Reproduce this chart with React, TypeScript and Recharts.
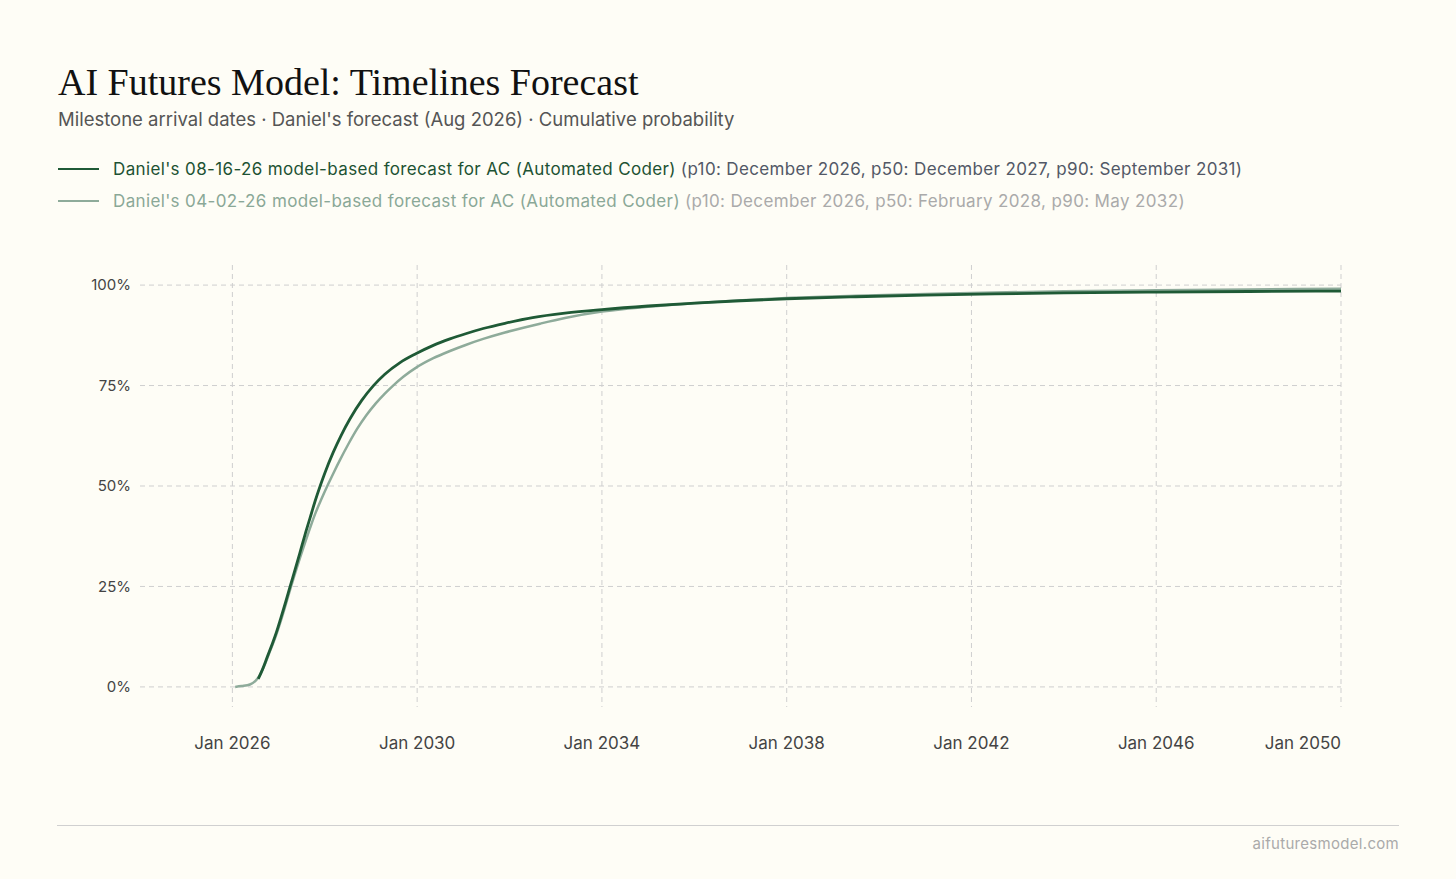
import React from "react";
import { LineChart, Line, XAxis, YAxis, CartesianGrid } from "recharts";

const darkYears = [2026.56, 2026.65, 2026.75, 2026.85, 2026.95, 2027.05, 2027.15, 2027.25, 2027.36, 2027.46, 2027.57, 2027.68, 2027.79, 2027.9, 2028.0, 2028.18, 2028.35, 2028.55, 2028.8, 2029.05, 2029.3, 2029.63, 2029.97, 2030.35, 2030.71, 2031.05, 2031.43, 2031.9, 2032.5, 2033.2, 2034.0, 2035.0, 2036.0, 2037.0, 2038.0, 2039.5, 2041.0, 2042.5, 2044.0, 2046.0, 2048.0, 2050.0];
const darkValues = [2.0, 4.3, 7.3, 10.3, 13.5, 17.2, 21.0, 25.0, 29.3, 33.3, 37.8, 42.0, 46.2, 50.0, 53.2, 58.3, 62.5, 66.8, 71.3, 74.9, 77.8, 80.7, 82.9, 85.0, 86.6, 87.9, 89.2, 90.5, 91.9, 93.0, 93.9, 94.8, 95.5, 96.1, 96.6, 97.1, 97.5, 97.8, 98.05, 98.25, 98.4, 98.5];

const lightYears = [2026.06, 2026.2, 2026.38, 2026.5, 2026.6, 2026.7, 2026.8, 2026.92, 2027.05, 2027.15, 2027.25, 2027.35, 2027.46, 2027.57, 2027.68, 2027.79, 2027.93, 2028.08, 2028.2, 2028.33, 2028.5, 2028.7, 2028.9, 2029.1, 2029.3, 2029.48, 2029.7, 2029.97, 2030.35, 2030.71, 2031.05, 2031.43, 2031.9, 2032.3, 2032.66, 2033.2, 2034.0, 2035.0, 2036.0, 2037.0, 2038.0, 2039.5, 2041.0, 2042.5, 2044.0, 2046.0, 2048.0, 2050.0];
const lightValues = [0, 0.2, 0.6, 1.5, 3.0, 5.5, 8.5, 12.0, 16.5, 20.3, 24.2, 28.0, 32.0, 35.8, 39.5, 43.0, 46.8, 50.6, 53.5, 56.5, 60.2, 64.2, 67.6, 70.5, 73.0, 75.0, 77.2, 79.4, 81.8, 83.6, 85.1, 86.6, 88.2, 89.4, 90.4, 91.8, 93.4, 94.6, 95.5, 96.2, 96.8, 97.35, 97.8, 98.15, 98.45, 98.7, 98.9, 99.1];

const xTicks = [2026, 2030, 2034, 2038, 2042, 2046, 2050];
const yTicks = [0, 25, 50, 75, 100];

const legendItems = [
  {
    label: "Daniel's 08-16-26 model-based forecast for AC (Automated Coder)",
    detail: "(p10: December 2026, p50: December 2027, p90: September 2031)",
  },
  {
    label: "Daniel's 04-02-26 model-based forecast for AC (Automated Coder)",
    detail: "(p10: December 2026, p50: February 2028, p90: May 2032)",
  },
];

const DARK = "#1f5a36";
const LIGHT = "#8eab9a";
const SANS = "Inter, 'Noto Sans', sans-serif";

const darkData = darkYears.map((t, i) => ({ t, v: darkValues[i] }));
const lightData = lightYears.map((t, i) => ({ t, v: lightValues[i] }));

const XTick = (props: any) => {
  const { x, y, payload } = props;
  const last = payload.value === xTicks[xTicks.length - 1];
  return (
    <text x={x} y={y + 42} textAnchor={last ? "end" : "middle"} fill="#444" fontSize={17} fontFamily={SANS}>
      {`Jan ${payload.value}`}
    </text>
  );
};

const YTick = (props: any) => {
  const { x, y, payload } = props;
  return (
    <text x={x - 9} y={y} dy="0.35em" textAnchor="end" fill="#444" fontSize={15} fontFamily={SANS}>
      {`${payload.value}%`}
    </text>
  );
};

export default function App() {
  return (
    <div style={{ position: "fixed", left: 0, top: 0, width: 1456, height: 879, background: "#fefdf6", overflow: "hidden" }}>
      <style>{`body{margin:0;}`}</style>
      <div style={{ position: "absolute", left: 58, top: 59, fontFamily: "'Liberation Serif', 'DejaVu Serif', serif", fontSize: 38, color: "#111", whiteSpace: "nowrap", lineHeight: "46px" }}>
        AI Futures Model: Timelines Forecast
      </div>
      <div style={{ position: "absolute", left: 58, top: 107, fontFamily: SANS, fontSize: 18.5, color: "#555", whiteSpace: "nowrap", lineHeight: "24px" }}>
        Milestone arrival dates · Daniel's forecast (Aug 2026) · Cumulative probability
      </div>
      {legendItems.map((it, i) => (
        <div key={i} style={{ position: "absolute", left: 58, top: 157 + i * 32, height: 24, display: "flex", alignItems: "center", whiteSpace: "nowrap", fontFamily: SANS, fontSize: 17, letterSpacing: "0.36px" }}>
          <div style={{ width: 41, height: 2.5, background: i === 0 ? DARK : LIGHT, marginRight: 14 }} />
          <span style={{ color: i === 0 ? "#1d5233" : "#8aa897" }}>{it.label}</span>
          <span style={{ color: i === 0 ? "#525866" : "#aaaaaa", marginLeft: 5 }}>{it.detail}</span>
        </div>
      ))}
      <div style={{ position: "absolute", left: 0, top: 0 }}>
        <LineChart width={1456} height={790} margin={{ top: 265, right: 115, bottom: 43, left: 80 }}>
          <CartesianGrid stroke="#cfcfcf" strokeDasharray="5 4" horizontalValues={yTicks} verticalValues={xTicks} />
          <XAxis
            type="number"
            dataKey="t"
            domain={[2024, 2050]}
            ticks={xTicks}
            allowDataOverflow
            axisLine={false}
            tickLine={false}
            tickSize={0}
            tickMargin={0}
            height={40}
            tick={<XTick />}
          />
          <YAxis
            type="number"
            domain={[-5, 105]}
            ticks={yTicks}
            allowDataOverflow
            axisLine={false}
            tickLine={false}
            tickSize={0}
            tickMargin={0}
            width={60}
            tick={<YTick />}
          />
          <Line data={lightData} dataKey="v" type="monotone" stroke={LIGHT} strokeWidth={2.5} dot={false} isAnimationActive={false} />
          <Line data={darkData} dataKey="v" type="monotone" stroke={DARK} strokeWidth={2.8} dot={false} isAnimationActive={false} />
        </LineChart>
      </div>
      <div style={{ position: "absolute", left: 57, top: 825, width: 1342, height: 1, background: "#d0d0d0" }} />
      <div style={{ position: "absolute", right: 57, top: 834, fontFamily: SANS, fontSize: 15, letterSpacing: "0.3px", color: "#aaa", lineHeight: "20px" }}>
        aifuturesmodel.com
      </div>
    </div>
  );
}
